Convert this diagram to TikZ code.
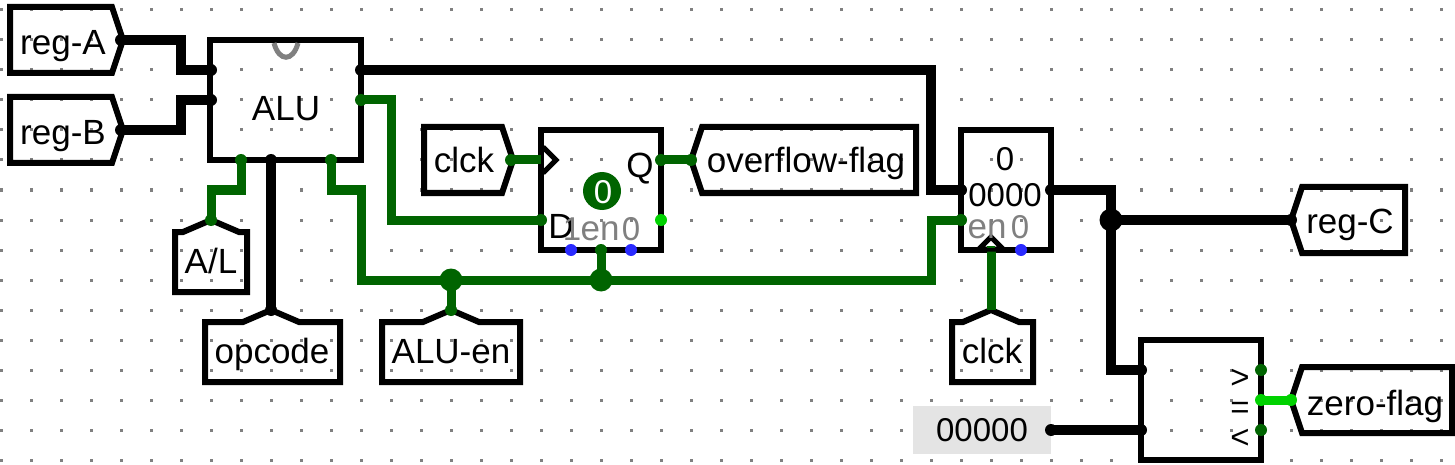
\documentclass[tikz,border=0pt]{standalone}
\usepackage{fontspec}
\setmainfont{Liberation Sans}
\definecolor{wiregreen}{HTML}{006400}
\definecolor{litegreen}{HTML}{00D200}
\definecolor{griddot}{HTML}{808080}
\definecolor{pinblue}{HTML}{2A2AFF}
\definecolor{constbg}{HTML}{E4E4E4}
\tikzset{
  outline/.style={draw=black,line width=6pt,miter limit=10},
  box/.style={draw=black,line width=6pt,inner sep=0pt,outer sep=0pt},
  label/.style={inner sep=0pt,outer sep=0pt,anchor=base,font=\fontsize{35}{35}\selectfont,text=black},
  digits/.style={inner sep=0pt,outer sep=0pt,anchor=base,font=\fontsize{33}{33}\selectfont,text=black},
  ghost/.style={label,text=griddot},
  ghostdigit/.style={digits,text=griddot},
  bus/.style={draw=black,line width=9.5pt,line join=miter},
  sig/.style={draw=wiregreen,line width=9pt,line join=miter},
  lit/.style={draw=litegreen,line width=9pt},
  bdot/.style={fill=black,circle,inner sep=0pt,minimum size=12pt},
  gdot/.style={fill=wiregreen,circle,inner sep=0pt,minimum size=12pt},
  ldot/.style={fill=litegreen,circle,inner sep=0pt,minimum size=12pt},
  udot/.style={fill=pinblue,circle,inner sep=0pt,minimum size=12pt},
  gjunction/.style={fill=wiregreen,circle,inner sep=0pt,minimum size=23pt},
  bjunction/.style={fill=black,circle,inner sep=0pt,minimum size=23pt},
}
\begin{document}
\begin{tikzpicture}[x=1pt,y=-1pt]
\useasboundingbox (0,0) rectangle (1455,465);
\fill[white] (0,0) rectangle (1455,465);
% grid
\foreach \i in {0,...,48}{\foreach \j in {0,...,15}{
  \fill[griddot] ({1+30*\i-1.5},{10+30*\j-1.5}) rectangle ++(3,3);
}}
% pins
\coordinate (aTip) at (121,40);
\coordinate (bTip) at (121,130);
\coordinate (aluA) at (211,70);
\coordinate (aluB) at (211,100);
\coordinate (aluOut) at (361,70);
\coordinate (aluOv) at (361,100);
\coordinate (aluAL) at (241,160);
\coordinate (aluOp) at (271,160);
\coordinate (aluEn) at (331,160);
\coordinate (alTip) at (211,220);
\coordinate (opTip) at (271,310);
\coordinate (enTip) at (451,310);
\coordinate (clkTip) at (511,160);
\coordinate (ffClk) at (541,160);
\coordinate (ffD) at (541,220);
\coordinate (ffQ) at (661,160);
\coordinate (ffEn) at (601,250);
\coordinate (ofTip) at (691,160);
\coordinate (rIn) at (961,190);
\coordinate (rEn) at (961,220);
\coordinate (rClk) at (991,250);
\coordinate (rOut) at (1051,190);
\coordinate (clk2Tip) at (991,310);
\coordinate (cTip) at (1291,220);
\coordinate (cmpA) at (1141,370);
\coordinate (cmpB) at (1141,430);
\coordinate (cmpGt) at (1261,370);
\coordinate (cmpEq) at (1261,400);
\coordinate (cmpLt) at (1261,430);
\coordinate (zTip) at (1291,400);
\coordinate (jEn) at (451,280);
\coordinate (jFf) at (601,280);
\coordinate (jC) at (1111,220);
% constant background
\node[fill=constbg,inner sep=0pt,minimum width=138pt,minimum height=48pt] (constBox) at (982,430) {};
% component boxes
\node[box,minimum width=151pt,minimum height=120pt] (alu) at (285.5,100) {};
\node[box,minimum width=120pt,minimum height=120pt] (ff) at (601,190) {};
\node[box,minimum width=90pt,minimum height=120pt] (reg) at (1006,190) {};
\node[box,minimum width=120pt,minimum height=120pt] (cmp) at (1201,400) {};
% tunnels
\draw[outline] (112,7) -- (123,40) -- (112,73) -- (10,73) -- (10,7) -- cycle;
\draw[outline] (112,97) -- (123,130) -- (112,163) -- (10,163) -- (10,97) -- cycle;
\draw[outline] (502,127) -- (513,160) -- (502,193) -- (424,193) -- (424,127) -- cycle;
\draw[outline] (702,127) -- (691,160) -- (702,193) -- (916,193) -- (916,127) -- cycle;
\draw[outline] (1302,187) -- (1291,220) -- (1302,253) -- (1405,253) -- (1405,187) -- cycle;
\draw[outline] (1302,367) -- (1291,400) -- (1302,433) -- (1452,433) -- (1452,367) -- cycle;
\draw[outline] (175,292) -- (175,232) -- (183,232) -- (211,220) -- (239,232) -- (247,232) -- (247,292) -- cycle;
\draw[outline] (205,382) -- (205,322) -- (243,322) -- (271,310) -- (299,322) -- (340,322) -- (340,382) -- cycle;
\draw[outline] (382,382) -- (382,322) -- (423,322) -- (451,310) -- (479,322) -- (520,322) -- (520,382) -- cycle;
\draw[outline] (952,382) -- (952,322) -- (963,322) -- (991,310) -- (1019,322) -- (1033,322) -- (1033,382) -- cycle;
% ALU notch
\draw[griddot,line width=5pt] (274,43) .. controls (279,62) and (293,62) .. (298,43);
% wires
\draw[bus] (aTip) -| (181,70) -- (aluA);
\draw[bus] (bTip) -| (181,100) -- (aluB);
\draw[bus] (aluOut) -| (931,190) -- (rIn);
\draw[bus] (aluOp) -- (opTip);
\draw[bus] (rOut) -| (jC) -- (cTip);
\draw[bus] (jC) |- (cmpA);
\draw[bus] (1051,430) -- (cmpB);
\draw[sig] (aluOv) -| (391,220) -- (ffD);
\draw[sig] (aluAL) |- (211,190) -- (alTip);
\draw[sig] (aluEn) |- (361,190) -- (361,280) -- (931,280) -- (931,220) -- (rEn);
\draw[sig] (jEn) -- (enTip);
\draw[sig] (ffEn) -- (jFf);
\draw[sig] (clkTip) -- (ffClk);
\draw[sig] (ffQ) -- (ofTip);
\draw[sig] (rClk) -- (clk2Tip);
\draw[lit] (cmpEq) -- (zTip);
% clock triangles
\draw[outline,line width=5pt] (543,147) -- (556,160) -- (543,173);
\draw[outline,line width=5pt,fill=white] (979,249) -- (991,237) -- (1003,249) -- cycle;
\draw[wiregreen,line width=2pt] (987,247) -- (995,247);
% junctions and pin dots
\foreach \p in {aTip,bTip,aluA,aluB,aluOut,aluOp,rIn,rOut,cmpA,cmpB,opTip,cTip}{\node[bdot] at (\p) {};}
\node[bdot] (constPin) at (1051,430) {};
\foreach \p in {aluOv,aluAL,aluEn,alTip,enTip,clkTip,ffD,ffQ,ffEn,ofTip,rEn,cmpGt,cmpLt}{\node[gdot] at (\p) {};}
\foreach \p in {cmpEq,zTip}{\node[ldot] at (\p) {};}
\node[ldot] (ffNq) at (661,220) {};
\node[udot] (ffS) at (571,250) {};
\node[udot] (ffR) at (631,250) {};
\node[udot] (regR) at (1021,250) {};
\node[gjunction] (nJEn) at (jEn) {};
\node[gjunction] (nJFf) at (jFf) {};
\node[bjunction] (nJC) at (jC) {};
% flip flop state
\node[fill=wiregreen,circle,inner sep=0pt,minimum size=38pt] (ffState) at (602,191) {};
% texts
\node[label] (tA) at (63,55) {reg-A};
\node[label] (tB) at (63,145) {reg-B};
\node[label] (tAlu) at (286,121) {ALU};
\node[label] (tClk) at (464,173) {clck};
\node[label] (tOv) at (806,173) {overflow-flag};
\node[label] (tAL) at (211,273) {A/L};
\node[label] (tOp) at (272,363) {opcode};
\node[label] (tEn) at (451,363) {ALU-en};
\node[label] (tClk2) at (992,363) {clck};
\node[label] (tC) at (1350,233) {reg-C};
\node[label] (tZ) at (1375,415) {zero-flag};
\node[digits] (tConst) at (982,441) {00000};
\node[label] (tQ) at (640,178) {Q};
\node[label] (tD) at (561,238) {D};
\node[ghostdigit] (ff1) at (572,240) {1};
\node[ghost] (ffE) at (600,240) {en};
\node[ghostdigit] (ff0) at (631,240) {0};
\node[digits,text=white] (ffV) at (603,204) {0};
\node[digits] (rTop) at (1005,171) {0};
\node[digits] (rVal) at (1005,207) {0000};
\node[ghost] (rE) at (987,238) {en};
\node[ghostdigit] (r0) at (1020,238) {0};
\node[digits] (cGt) at (1240,388) {>};
\node[digits] (cEq) at (1240,418) {=};
\node[digits] (cLt) at (1240,448) {<};
\end{tikzpicture}
\end{document}
